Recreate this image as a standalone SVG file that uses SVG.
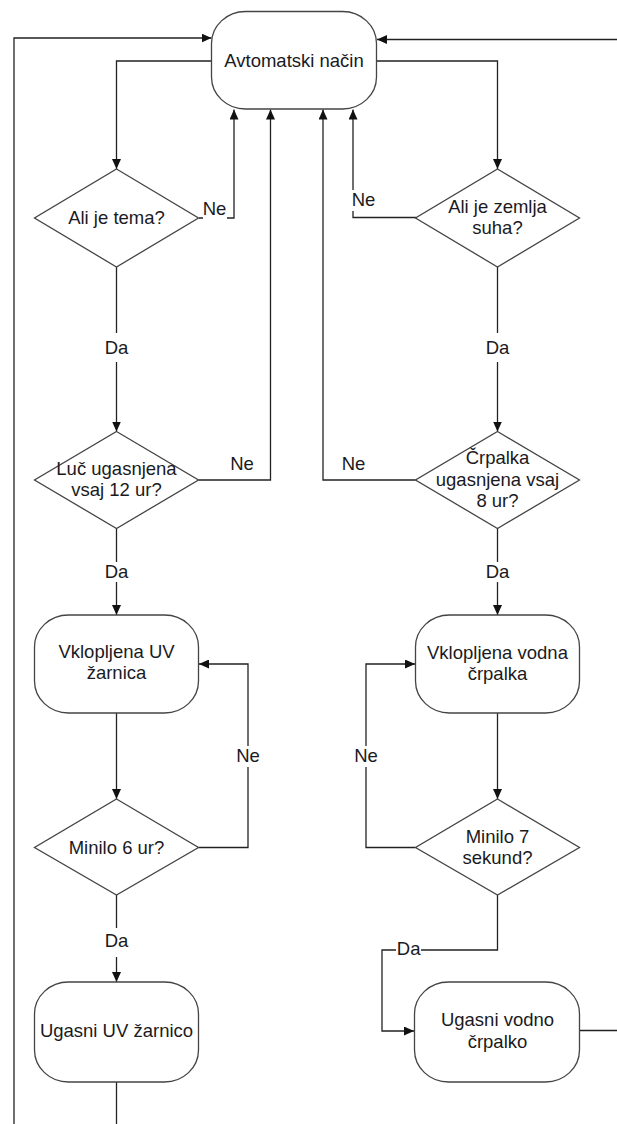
<svg xmlns="http://www.w3.org/2000/svg" width="617" height="1124" viewBox="0 0 617 1124">
<defs>
<marker id="arr" markerUnits="userSpaceOnUse" markerWidth="10" markerHeight="9" refX="10" refY="4.5" orient="auto">
<path d="M0,0 L10,4.5 L0,9 z" fill="#111"/>
</marker>
<style>
.node{fill:#fff;stroke:#444;stroke-width:1.3}
.t{font-family:"Liberation Sans",Arial,sans-serif;font-size:18.5px;fill:#1a1a22;text-anchor:middle}
.c{fill:none;stroke:#222;stroke-width:1.3}
.ca{fill:none;stroke:#222;stroke-width:1.3;marker-end:url(#arr)}
.bg{fill:#fff}
</style>
</defs>
<rect width="617" height="1124" fill="#fff"/>
<g id="connectors">
<path class="ca" d="M14,1124 V38 H211.5"/>
<path class="ca" d="M580,1030.5 H618.5 V39.5 H377"/>
<path class="ca" d="M211.5,61 H116.5 V169"/>
<path class="ca" d="M376.5,61 H497.5 V169"/>
<path class="ca" d="M199,218 H234 V109.5"/>
<path class="ca" d="M416,217.5 H353 V109.5"/>
<path class="ca" d="M116.5,267 V431.5"/>
<path class="ca" d="M497.5,267 V431.5"/>
<path class="ca" d="M198.5,480 H270.5 V109.5"/>
<path class="ca" d="M415.5,480 H323 V109.5"/>
<path class="ca" d="M116.5,528 V615"/>
<path class="ca" d="M497.5,528 V615"/>
<path class="ca" d="M116.5,713 V799"/>
<path class="ca" d="M497.5,713 V799"/>
<path class="ca" d="M198.5,847.5 H248 V664 H199"/>
<path class="ca" d="M415.5,847.5 H366 V664 H415"/>
<path class="ca" d="M116.5,895 V982"/>
<path class="ca" d="M497.5,895 V950 H382 V1031 H414"/>
<path class="c" d="M116.5,1082 V1124"/>
<rect class="bg" x="203" y="198" width="24" height="22"/>
<text class="t" x="214.5" y="214.5">Ne</text>
<rect class="bg" x="352" y="190" width="23" height="21"/>
<text class="t" x="363.5" y="206">Ne</text>
<rect class="bg" x="104" y="333" width="25" height="29"/>
<text class="t" x="116.5" y="354">Da</text>
<rect class="bg" x="485" y="333" width="25" height="29"/>
<text class="t" x="497.5" y="354">Da</text>
<text class="t" x="242" y="469.5">Ne</text>
<text class="t" x="353.5" y="469.5">Ne</text>
<rect class="bg" x="104" y="562" width="25" height="20"/>
<text class="t" x="116.5" y="578">Da</text>
<rect class="bg" x="485" y="562" width="25" height="20"/>
<text class="t" x="497.5" y="578">Da</text>
<rect class="bg" x="236" y="746" width="24" height="21"/>
<text class="t" x="248" y="762">Ne</text>
<rect class="bg" x="354" y="746" width="24" height="21"/>
<text class="t" x="366" y="762">Ne</text>
<rect class="bg" x="104" y="928" width="25" height="29"/>
<text class="t" x="116.5" y="947">Da</text>
<rect class="bg" x="396" y="940" width="25" height="18"/>
<text class="t" x="408.7" y="954.5">Da</text>
</g>
<g id="n-avtomatski">
<rect class="node" x="211.5" y="11.5" width="165" height="97.5" rx="34" ry="32"/>
<text class="t" x="294" y="67">Avtomatski način</text>
</g>
<g id="d-tema">
<polygon class="node" points="116.5,169 198.5,218 116.5,267 34.5,218"/>
<text class="t" x="116.5" y="224">Ali je tema?</text>
</g>
<g id="d-zemlja">
<polygon class="node" points="497.5,169 579.5,218 497.5,267 415.5,218"/>
<text class="t" x="497.5" y="213">Ali je zemlja</text>
<text class="t" x="497.5" y="234">suha?</text>
</g>
<g id="d-luc">
<polygon class="node" points="116.5,431.5 198.5,480 116.5,528.5 34.5,480"/>
<text class="t" x="116.5" y="475">Luč ugasnjena</text>
<text class="t" x="116.5" y="496">vsaj 12 ur?</text>
</g>
<g id="d-crpalka">
<polygon class="node" points="497.5,431.5 579.5,480 497.5,528.5 415.5,480"/>
<text class="t" x="497.5" y="464">Črpalka</text>
<text class="t" x="497.5" y="485.5">ugasnjena vsaj</text>
<text class="t" x="497.5" y="507">8 ur?</text>
</g>
<g id="n-uv-on">
<rect class="node" x="34.5" y="615" width="164" height="98" rx="34" ry="32"/>
<text class="t" x="116.5" y="658">Vklopljena UV</text>
<text class="t" x="116.5" y="679">žarnica</text>
</g>
<g id="n-pump-on">
<rect class="node" x="415.5" y="615" width="164" height="98" rx="34" ry="32"/>
<text class="t" x="497.5" y="658.5">Vklopljena vodna</text>
<text class="t" x="497.5" y="679.5">črpalka</text>
</g>
<g id="d-6ur">
<polygon class="node" points="116.5,799 198.5,847.5 116.5,895 34.5,847.5"/>
<text class="t" x="116.5" y="853.5">Minilo 6 ur?</text>
</g>
<g id="d-7sek">
<polygon class="node" points="497.5,799 579.5,847.5 497.5,895 415.5,847.5"/>
<text class="t" x="497.5" y="843">Minilo 7</text>
<text class="t" x="497.5" y="864">sekund?</text>
</g>
<g id="n-uv-off">
<rect class="node" x="34.5" y="982" width="164" height="100" rx="34" ry="32"/>
<text class="t" x="116.5" y="1037">Ugasni UV žarnico</text>
</g>
<g id="n-pump-off">
<rect class="node" x="414.5" y="982" width="165" height="100" rx="34" ry="32"/>
<text class="t" x="497.5" y="1026">Ugasni vodno</text>
<text class="t" x="497.5" y="1047.5">črpalko</text>
</g>
</svg>
